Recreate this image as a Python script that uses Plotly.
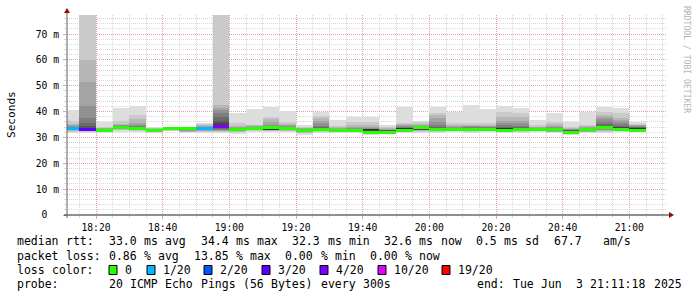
import re
import plotly.graph_objects as go
from datetime import datetime, timedelta

DAY = "2025-06-03"
X_START = "2025-06-03 18:11:18"
X_END = "2025-06-03 21:11:18"
Y_MAX = 77.4

# 5-minute intervals (start times)
bar_starts = ["18:10", "18:15", "18:20", "18:25", "18:30", "18:35", "18:40", "18:45",
              "18:50", "18:55", "19:00", "19:05", "19:10", "19:15", "19:20", "19:25",
              "19:30", "19:35", "19:40", "19:45", "19:50", "19:55", "20:00", "20:05",
              "20:10", "20:15", "20:20", "20:25", "20:30", "20:35", "20:40", "20:45",
              "20:50", "20:55", "21:00"]

# 20 sorted ping RTTs (ms) per interval
p1810 = [31.6, 32.3, 32.6, 32.8, 32.9, 33.0, 33.1, 33.2, 33.3, 33.4, 33.5, 33.6, 33.7, 33.8, 34.0, 34.3, 34.7, 35.2, 36.2, 40.6]
p1815 = [31.8, 32.2, 32.4, 32.5, 32.6, 32.7, 32.8, 32.9, 33.0, 33.1, 33.4, 33.8, 34.5, 35.5, 37.4, 42.1, 51.5, 60.0, 85.0, 95.0]
p1820 = [31.6, 32.0, 32.2, 32.3, 32.4, 32.5, 32.6, 32.6, 32.7, 32.7, 32.8, 32.9, 33.0, 33.1, 33.3, 33.4, 33.5, 33.6, 34.0, 35.8]
p1825 = [32.3, 32.8, 33.0, 33.2, 33.3, 33.5, 33.6, 33.7, 33.8, 33.9, 34.0, 34.1, 34.2, 34.4, 34.6, 34.8, 35.0, 35.3, 36.5, 41.6]
p1830 = [32.3, 32.6, 32.8, 33.0, 33.1, 33.2, 33.3, 33.4, 33.5, 33.6, 33.7, 33.8, 34.0, 34.2, 34.5, 35.0, 35.5, 37.0, 38.7, 42.1]
p1835 = [31.7, 32.0, 32.1, 32.2, 32.3, 32.4, 32.5, 32.5, 32.6, 32.6, 32.7, 32.7, 32.8, 32.9, 33.0, 33.1, 33.3, 33.5, 33.8, 34.1]
p1840 = [32.5, 32.7, 32.8, 32.9, 33.0, 33.0, 33.1, 33.1, 33.2, 33.2, 33.3, 33.3, 33.4, 33.4, 33.5, 33.5, 33.6, 33.7, 33.8, 34.2]
p1845 = [31.6, 32.0, 32.3, 32.5, 32.7, 32.8, 32.9, 33.0, 33.1, 33.2, 33.3, 33.3, 33.4, 33.5, 33.6, 33.7, 33.8, 33.9, 34.0, 34.2]
p1850 = [31.8, 32.2, 32.5, 32.7, 32.9, 33.0, 33.1, 33.2, 33.3, 33.5, 33.6, 33.7, 33.8, 33.9, 34.0, 34.2, 34.4, 34.7, 35.1, 35.7]
p1855 = [31.6, 32.0, 32.4, 32.6, 32.8, 33.0, 33.2, 33.5, 33.8, 34.3, 34.8, 35.5, 36.5, 38.0, 39.5, 40.5, 41.5, 42.5, 85.0, 95.0]
p1900 = [31.3, 32.0, 32.3, 32.5, 32.6, 32.7, 32.8, 32.8, 32.9, 32.9, 33.0, 33.1, 33.2, 33.3, 33.5, 33.7, 34.0, 34.5, 35.5, 39.6]
p1905 = [32.3, 32.6, 32.8, 32.9, 33.0, 33.1, 33.2, 33.3, 33.3, 33.4, 33.5, 33.6, 33.7, 33.8, 34.0, 34.2, 34.4, 34.7, 35.0, 41.0]
p1910 = [32.0, 32.4, 32.6, 32.8, 32.9, 33.0, 33.0, 33.0, 33.0, 33.1, 33.2, 33.3, 33.6, 34.0, 34.5, 35.0, 35.8, 37.0, 38.0, 41.9]
p1915 = [32.0, 32.4, 32.6, 32.8, 32.9, 33.0, 33.1, 33.2, 33.3, 33.4, 33.5, 33.6, 33.7, 33.8, 34.0, 34.3, 34.7, 35.3, 35.8, 40.2]
p1920 = [30.9, 31.6, 31.9, 32.1, 32.2, 32.3, 32.4, 32.5, 32.5, 32.6, 32.7, 32.8, 32.9, 33.0, 33.1, 33.3, 33.5, 33.8, 34.2, 34.8]
p1925 = [31.8, 32.2, 32.5, 32.7, 32.8, 32.9, 33.0, 33.1, 33.2, 33.3, 33.4, 33.5, 33.7, 34.0, 34.5, 35.5, 36.5, 37.5, 38.3, 40.0]
p1930 = [31.8, 32.0, 32.1, 32.2, 32.3, 32.4, 32.5, 32.5, 32.6, 32.6, 32.7, 32.8, 32.9, 33.0, 33.1, 33.3, 33.6, 34.0, 34.6, 36.7]
p1935 = [31.6, 32.0, 32.2, 32.3, 32.4, 32.5, 32.5, 32.6, 32.6, 32.7, 32.7, 32.8, 32.9, 33.0, 33.2, 33.5, 34.0, 35.0, 36.0, 38.0]
p1940 = [30.9, 31.5, 31.8, 32.0, 32.1, 32.2, 32.3, 32.4, 32.5, 32.9, 33.0, 33.1, 33.2, 33.3, 33.4, 33.6, 34.0, 35.0, 36.0, 37.8]
p1945 = [31.6, 31.8, 31.9, 32.0, 32.0, 32.1, 32.1, 32.2, 32.2, 32.3, 32.4, 32.5, 32.6, 32.7, 32.8, 33.0, 33.2, 33.5, 34.0, 34.8]
p1950 = [31.8, 32.2, 32.4, 32.6, 32.7, 32.8, 32.9, 33.0, 33.1, 33.2, 33.3, 33.4, 33.5, 33.7, 34.0, 34.3, 34.8, 35.3, 35.7, 41.9]
p1955 = [31.8, 32.3, 32.6, 32.8, 32.9, 33.0, 33.0, 33.1, 33.1, 33.2, 33.2, 33.3, 33.5, 33.7, 34.0, 34.3, 34.7, 35.2, 35.8, 36.5]
p2000 = [31.6, 32.2, 32.4, 32.6, 32.7, 32.8, 32.9, 33.0, 33.1, 33.2, 33.3, 33.5, 33.8, 34.2, 35.0, 36.0, 37.5, 38.8, 39.6, 41.9]
p2005 = [32.2, 32.5, 32.6, 32.7, 32.8, 32.9, 32.9, 33.0, 33.0, 33.1, 33.2, 33.3, 33.4, 33.5, 33.7, 34.0, 34.3, 34.7, 35.5, 40.0]
p2010 = [31.8, 32.3, 32.5, 32.7, 32.9, 33.0, 33.1, 33.2, 33.3, 33.3, 33.4, 33.5, 33.6, 33.8, 34.0, 34.3, 34.6, 35.0, 35.5, 42.5]
p2015 = [32.2, 32.5, 32.7, 32.8, 32.9, 33.0, 33.1, 33.2, 33.2, 33.3, 33.4, 33.5, 33.6, 33.7, 33.9, 34.1, 34.4, 34.8, 35.5, 41.0]
p2020 = [31.8, 32.3, 32.5, 32.7, 32.9, 33.0, 33.1, 33.2, 33.3, 33.4, 33.5, 33.6, 33.8, 34.2, 34.8, 35.5, 36.5, 38.0, 40.0, 42.2]
p2025 = [31.6, 32.2, 32.4, 32.6, 32.7, 32.8, 32.9, 33.0, 33.1, 33.2, 33.3, 33.4, 33.6, 34.0, 34.6, 35.5, 36.5, 38.0, 39.6, 41.6]
p2030 = [32.2, 32.4, 32.6, 32.7, 32.8, 32.9, 33.0, 33.0, 33.1, 33.1, 33.2, 33.2, 33.3, 33.4, 33.5, 33.7, 33.9, 34.2, 34.8, 36.7]
p2035 = [31.6, 32.0, 32.2, 32.3, 32.4, 32.5, 32.5, 32.6, 32.6, 32.7, 32.8, 32.9, 33.1, 33.3, 33.6, 34.0, 34.6, 35.3, 36.1, 39.6]
p2040 = [30.9, 31.5, 31.8, 32.0, 32.1, 32.2, 32.2, 32.3, 32.3, 32.4, 32.4, 32.5, 32.6, 32.7, 32.9, 33.1, 33.4, 33.8, 34.2, 36.1]
p2045 = [31.6, 32.0, 32.2, 32.3, 32.4, 32.5, 32.6, 32.6, 32.7, 32.7, 32.8, 32.9, 33.0, 33.2, 33.4, 33.7, 34.0, 34.3, 34.8, 40.0]
p2050 = [31.8, 32.3, 32.6, 32.8, 33.0, 33.1, 33.2, 33.3, 33.4, 33.5, 33.7, 34.0, 34.5, 35.2, 36.0, 37.0, 38.0, 38.7, 40.0, 41.9]
p2055 = [32.3, 32.6, 32.8, 32.9, 33.0, 33.1, 33.2, 33.3, 33.4, 33.5, 33.6, 33.8, 34.0, 34.5, 35.2, 36.0, 36.8, 37.4, 39.6, 41.5]
p2100 = [32.4, 32.6, 32.7, 32.8, 32.9, 33.0, 33.0, 33.1, 33.2, 33.3, 33.4, 33.5, 33.7, 33.9, 34.1, 34.4, 34.7, 34.9, 35.2, 36.1]

median_rtt = [33.4, 33.0, 32.7, 34.0, 33.6, 32.6, 33.3, 33.3, 33.6, 34.2, 32.9, 33.4, 33.7, 33.4, 32.7,
              33.1, 32.6, 32.6, 32.1, 32.1, 32.7, 33.7, 33.0, 33.0, 33.2, 33.1, 32.8, 32.9, 32.9, 33.2,
              32.1, 33.2, 33.8, 33.0, 32.8]
lost_pings = [1, 3, 0, 0, 0, 0, 0, 0, 1, 4, 0, 0, 0, 0, 0, 0, 0, 0, 0, 0, 0, 0, 0, 0, 0, 0, 0, 0, 0, 0,
              0, 0, 0, 0, 0]

loss_levels = [0, 1, 2, 3, 4, 10, 19]
loss_labels = ["0", "1/20", "2/20", "3/20", "4/20", "10/20", "19/20"]
loss_colors = ["#26ff00", "#00b8ff", "#0059ff", "#5e00ff", "#7e00ff", "#dd00ff", "#ff0000"]

ytick_vals = [0, 10, 20, 30, 40, 50, 60, 70]
ytick_text = ["0\u00a0\u00a0", "10 m", "20 m", "30 m", "40 m", "50 m", "60 m", "70 m"]

legend_rtt = "median rtt:  33.0 ms avg  34.4 ms max  32.3 ms min  32.6 ms now  0.5 ms sd  67.7   am/s"
legend_loss = "packet loss: 0.86 % avg  13.85 % max  0.00 % min  0.00 % now"
legend_color = "loss color:"
legend_probe = "probe:       20 ICMP Echo Pings (56 Bytes) every 300s"
legend_end = "end: Tue Jun  3 21:11:18 2025"

bars = [p1810, p1815, p1820, p1825, p1830, p1835, p1840, p1845, p1850, p1855, p1900, p1905,
        p1910, p1915, p1920, p1925, p1930, p1935, p1940, p1945, p1950, p1955, p2000, p2005,
        p2010, p2015, p2020, p2025, p2030, p2035, p2040, p2045, p2050, p2055, p2100]

# ---------------- geometry helpers (pixels -> paper) ----------------
W, H = 697, 297
L, T, PW, PH = 67, 15, 600, 200


def px(x):
    return (x - L) / PW


def py(y):
    return (T + PH - y) / PH


MONO = "DejaVu Sans Mono"
centers = [datetime.strptime(DAY + " " + s, "%Y-%m-%d %H:%M") + timedelta(minutes=2.5) for s in bar_starts]
STEP_MS = 300000

fig = go.Figure()

# smoke layers
half = 10
for i in range(half):
    lo = [b[i] for b in bars]
    hi = [b[19 - i] for b in bars]
    g = int(190 / half * (half - (i + 1))) + 50
    fig.add_trace(go.Bar(
        x=centers, base=lo, y=[h - l for h, l in zip(hi, lo)], width=STEP_MS,
        marker=dict(color=f"rgb({g},{g},{g})", line=dict(width=0)),
        hoverinfo="skip", showlegend=False))


def loss_color(n):
    c = loss_colors[0]
    for lv, col in zip(loss_levels, loss_colors):
        if n >= lv:
            c = col
    return c


MH = 3 * Y_MAX / PH
fig.add_trace(go.Bar(
    x=centers, base=[m - MH / 2 for m in median_rtt], y=[MH] * len(median_rtt), width=STEP_MS,
    marker=dict(color=[loss_color(n) for n in lost_pings], line=dict(width=0)),
    hoverinfo="skip", showlegend=False))

GRID = "rgb(215,215,215)"
MGRID = "rgb(222,160,160)"

fig.update_layout(
    width=W, height=H, autosize=False,
    margin=dict(l=L, r=W - L - PW, t=T, b=H - T - PH, pad=0),
    paper_bgcolor="white", plot_bgcolor="white",
    barmode="overlay", bargap=0,
    showlegend=False,
    font=dict(family=MONO, size=11, color="black"),
    xaxis=dict(
        type="date", range=[X_START, X_END], tickformat="%H:%M",
        dtick=20 * 60 * 1000, tick0="2025-06-03 18:00:00",
        showgrid=True, gridcolor=MGRID, griddash="1px,1px", gridwidth=1,
        ticks="outside", ticklen=3, tickcolor=MGRID, tickwidth=1,
        tickfont=dict(family=MONO, size=9.7, color="black"),
        showline=False, zeroline=False, fixedrange=True,
        minor=dict(dtick=5 * 60 * 1000, tick0="2025-06-03 18:00:00", showgrid=True,
                   gridcolor=GRID, griddash="1px,1px", gridwidth=1,
                   ticks="outside", ticklen=2, tickcolor=GRID),
    ),
    yaxis=dict(
        range=[0, Y_MAX], tickmode="array", tickvals=ytick_vals, ticktext=ytick_text,
        showgrid=True, gridcolor=MGRID, griddash="1px,1px", gridwidth=1,
        ticks="outside", ticklen=3, tickcolor=MGRID, tickwidth=1,
        tickfont=dict(family=MONO, size=9.7, color="black"),
        ticklabelstandoff=2,
        showline=False, zeroline=False, fixedrange=True,
        minor=dict(dtick=2, tick0=0, showgrid=True, gridcolor=GRID, griddash="1px,1px",
                   gridwidth=1, ticks="outside", ticklen=2, tickcolor=GRID),
    ),
)

shapes = []
# axes lines
shapes.append(dict(type="line", xref="paper", yref="paper", x0=px(64), x1=px(669), y0=py(215), y1=py(215),
                   line=dict(color="#202020", width=1)))
shapes.append(dict(type="line", xref="paper", yref="paper", x0=px(67), x1=px(67), y0=py(218), y1=py(12),
                   line=dict(color="#606060", width=1)))
# arrows
shapes.append(dict(type="path", xref="paper", yref="paper",
                   path=f"M {px(64)} {py(13)} L {px(70)} {py(13)} L {px(67)} {py(8)} Z",
                   fillcolor="#8b1010", line=dict(width=0)))
shapes.append(dict(type="path", xref="paper", yref="paper",
                   path=f"M {px(669)} {py(212)} L {px(669)} {py(218)} L {px(674)} {py(215)} Z",
                   fillcolor="#8b1010", line=dict(width=0)))

annotations = []


def txt(x, y, s, size=11.1, color="black", anchor="left", angle=0, yanchor="middle"):
    annotations.append(dict(x=px(x), y=py(y), xref="paper", yref="paper",
                            text=s.replace(" ", "\u00a0"), showarrow=False,
                            xanchor=anchor, yanchor=yanchor, textangle=angle,
                            font=dict(family=MONO, size=size, color=color), borderpad=0))


LEG = 11.5   # legend font size (px)
CH = 7.06    # legend character cell width (px)


def mono_line(x0, y, s):
    # place each word on the monospace character grid
    for m in re.finditer(r"\S+", s):
        txt(x0 + CH * m.start(), y, m.group(), size=LEG)


txt(11, 115, "Seconds", anchor="center", angle=-90)
txt(687, 59, "RRDTOOL / TOBI OETIKER", size=8.1, color="#b4b4b4", anchor="center", angle=90)

# legend lines
y1, y2, y3, y4 = 241, 255.5, 270, 284
LX = 16
mono_line(LX, y1, legend_rtt)
mono_line(LX, y2, legend_loss)
mono_line(LX, y3, legend_color)
sq_x = [109, 147, 204, 262, 320, 378, 442]
for sx, lab, col in zip(sq_x, loss_labels, loss_colors):
    shapes.append(dict(type="rect", xref="paper", yref="paper", x0=px(sx), x1=px(sx + 8),
                       y0=py(y3 + 4.5), y1=py(y3 - 4.5), fillcolor=col,
                       line=dict(color="black", width=1)))
    txt(sx + 15, y3, lab, size=LEG)
mono_line(LX, y4, legend_probe)
mono_line(681 - CH * len(legend_end), y4, legend_end)

fig.update_layout(shapes=shapes, annotations=annotations)
fig.write_html("out.html")
